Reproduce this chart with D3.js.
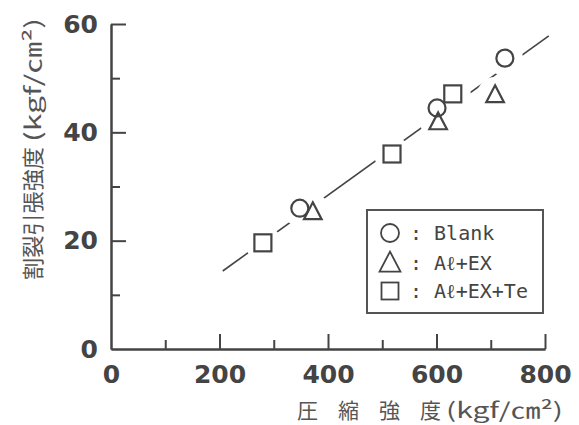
<!DOCTYPE html>
<html>
<head>
<meta charset="utf-8">
<script src="https://cdn.jsdelivr.net/npm/d3@7"></script>
<style>
  body { margin: 0; background: #fff; }
  svg { display: block; }
</style>
</head>
<body>
<script>
// values
const blankX = [348, 601, 726];
const blankY = [26.0, 44.5, 53.7];
const alexX = [372, 603, 708];
const alexY = [25.3, 41.9, 46.9];
const alexteX = [280, 518, 630];
const alexteY = [19.6, 36.0, 47.1];
const fitX = [206, 807];
const fitY = [14.4, 57.8];

const xMajor = [0, 200, 400, 600, 800];
const xMinor = [100, 300, 500, 700];
const yMajor = [0, 20, 40, 60];
const yMinor = [10, 30, 50];

const legendLabels = [": Blank", ": A\u2113+EX", ": A\u2113+EX+Te"];

const W = 579, H = 425;
const ink = "#444";

const svg = d3.select("body").append("svg")
  .attr("width", W)
  .attr("height", H);

const x = d3.scaleLinear().domain([0, 800]).range([111, 545]);
const y = d3.scaleLinear().domain([0, 60]).range([349, 24]);

function styleAxis(g) {
  g.select(".domain").attr("stroke", ink).attr("stroke-width", 2);
  g.selectAll(".tick line").attr("stroke", ink).attr("stroke-width", 2);
  g.selectAll(".tick text")
    .attr("fill", ink)
    .style("font-family", "'DejaVu Sans', sans-serif")
    .style("font-weight", "bold")
    .style("font-size", "25px");
}

// x axis
svg.append("g")
  .attr("transform", "translate(0,349)")
  .call(d3.axisBottom(x).tickValues(xMinor).tickSize(-9).tickSizeOuter(0).tickFormat(""))
  .call(styleAxis);
svg.append("g")
  .attr("transform", "translate(0,349)")
  .call(d3.axisBottom(x).tickValues(xMajor).tickSize(-15).tickSizeOuter(0).tickPadding(16))
  .call(styleAxis);
svg.selectAll(".tick line").filter(d => d === 0).remove();

// y axis
svg.append("g")
  .attr("transform", "translate(111,0)")
  .call(d3.axisLeft(y).tickValues(yMinor).tickSize(-9).tickSizeOuter(0).tickFormat(""))
  .call(styleAxis);
svg.append("g")
  .attr("transform", "translate(111,0)")
  .call(d3.axisLeft(y).tickValues(yMajor).tickSize(-15).tickSizeOuter(0).tickPadding(13))
  .call(styleAxis);
svg.selectAll(".tick line").filter(d => d === 0).remove();

// axis titles
const cjk = "'Noto Sans CJK JP', sans-serif";
const xt = svg.append("g").attr("fill", "#555")
  .style("font-family", cjk).style("font-size", "21px");
["圧", "縮", "強", "度"].forEach((c, i) => {
  xt.append("text").attr("x", 297 + i * 41).attr("y", 418).text(c);
});
xt.append("text").attr("x", 446).attr("y", 418)
  .attr("textLength", 117).attr("lengthAdjust", "spacingAndGlyphs")
  .text("(kgf/\u339D\u00B2)");

const yt = svg.append("g").attr("fill", "#555")
  .attr("transform", "translate(31,280) rotate(-90)")
  .style("font-family", cjk).style("font-size", "22px");
yt.append("text").attr("x", 0).attr("y", 0).attr("dominant-baseline", "central")
  .attr("textLength", 133).attr("lengthAdjust", "spacingAndGlyphs")
  .text("割裂引張強度");
yt.append("text").attr("x", 138).attr("y", 0).attr("dominant-baseline", "central")
  .attr("textLength", 124).attr("lengthAdjust", "spacingAndGlyphs")
  .text("(kgf/\u339D\u00B2)");

// fitted line
svg.append("line")
  .attr("x1", x(fitX[0])).attr("y1", y(fitY[0]))
  .attr("x2", x(fitX[1])).attr("y2", y(fitY[1]))
  .attr("stroke", ink).attr("stroke-width", 1.6);

const blank = blankX.map((v, i) => [v, blankY[i]]);
const alex = alexX.map((v, i) => [v, alexY[i]]);
const alexte = alexteX.map((v, i) => [v, alexteY[i]]);

// white gaps in the line round each marker
svg.append("g").selectAll("circle")
  .data(blank.concat(alex, alexte))
  .join("circle")
  .attr("cx", d => x(d[0])).attr("cy", d => y(d[1]))
  .attr("r", 18).attr("fill", "#fff");

const tri = s => `M0,${-s * 0.6}L${s * 0.55},${s * 0.45}L${-s * 0.55},${s * 0.45}Z`;

const marks = svg.append("g").attr("fill", "none").attr("stroke", ink).attr("stroke-width", 2.2);
marks.selectAll(".b").data(blank).join("circle")
  .attr("cx", d => x(d[0])).attr("cy", d => y(d[1])).attr("r", 8.5);
marks.selectAll(".a").data(alex).join("path")
  .attr("transform", d => `translate(${x(d[0])},${y(d[1])})`)
  .attr("d", tri(16));
marks.selectAll(".t").data(alexte).join("rect")
  .attr("x", d => x(d[0]) - 8.5).attr("y", d => y(d[1]) - 8.5)
  .attr("width", 17).attr("height", 17);

// legend
const lg = svg.append("g");
lg.append("rect").attr("x", 367).attr("y", 210).attr("width", 176).attr("height", 103)
  .attr("fill", "#fff").attr("stroke", "#555").attr("stroke-width", 2);
const rowY = [233, 263, 291];
lg.append("circle").attr("cx", 390).attr("cy", rowY[0]).attr("r", 9)
  .attr("fill", "none").attr("stroke", ink).attr("stroke-width", 1.8);
lg.append("path").attr("transform", `translate(390,${rowY[1]})`).attr("d", tri(19))
  .attr("fill", "none").attr("stroke", ink).attr("stroke-width", 1.8);
lg.append("rect").attr("x", 381.5).attr("y", rowY[2] - 8.5).attr("width", 17).attr("height", 17)
  .attr("fill", "none").attr("stroke", ink).attr("stroke-width", 1.8);
lg.selectAll("text").data(legendLabels).join("text")
  .attr("x", 410).attr("y", (d, i) => rowY[i])
  .attr("dominant-baseline", "central")
  .attr("fill", ink)
  .style("font-family", "'DejaVu Sans Mono', monospace")
  .style("font-size", "20px")
  .text(d => d);
</script>
</body>
</html>
